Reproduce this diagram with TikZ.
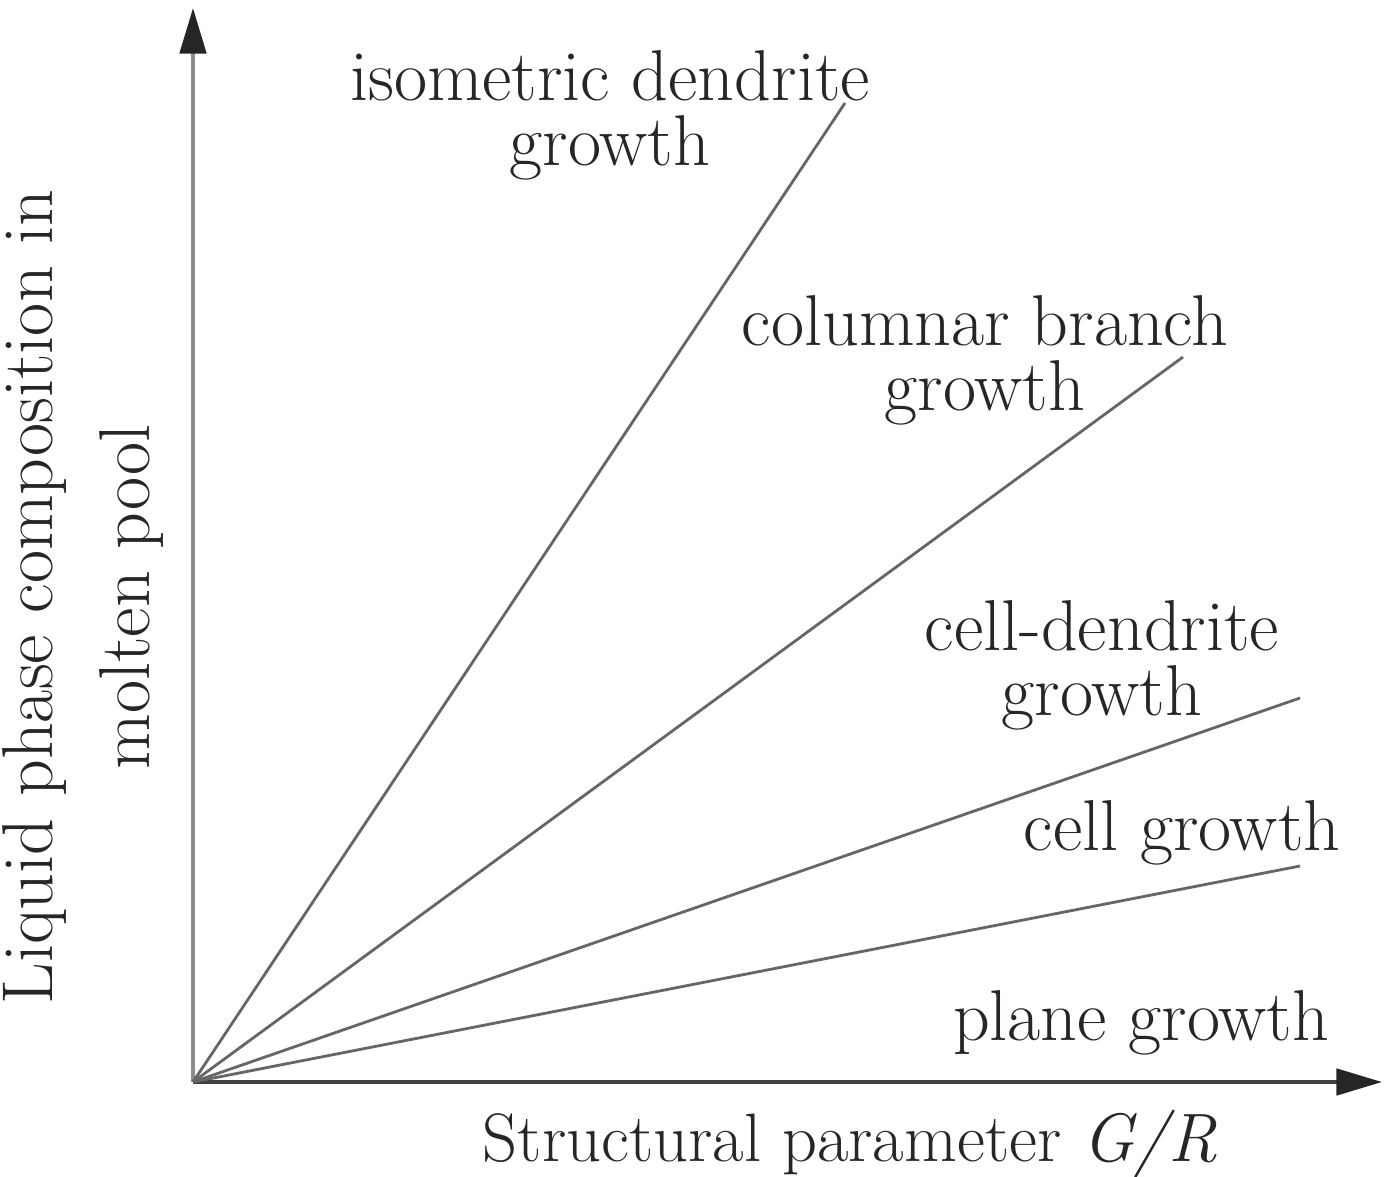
\documentclass[tikz,border=0pt]{standalone}
\usepackage{fontspec}
\usetikzlibrary{arrows.meta}
\usetikzlibrary{calc}

\begin{document}
\begin{tikzpicture}[x=0.02cm,y=-0.02cm]
    \useasboundingbox (0,0) rectangle (1392,1176);
    \begin{scope}[font=\fontsize{41}{37}\selectfont,
        axistip/.style={-{Triangle[length=26pt,width=15pt,color=black!85]}},
        growthline/.style={draw=black!60,line width=1.6pt},
        lbl/.style={inner sep=0pt,align=center,text=black!85}]
    % Axes:
    % The origin and the free ends of the axes are named coordinates:
    \coordinate (O) at (193,1082);
    \coordinate (ytop) at (193,8);
    \coordinate (xend) at (1382,1082);
    \draw [axistip,draw=black!45,line width=2.2pt] (O) -- (ytop);
    \draw [axistip,draw=black!75,line width=2.2pt] (O) -- (xend);

    % Ends of the growth lines
    \coordinate (iso) at (845,103);
    \coordinate (col) at (1183,357);
    \coordinate (cd) at (1300,698);
    \coordinate (cell) at (1300,866);

    \foreach \e in {iso,col,cd,cell}
        \draw [growthline] (O) -- (\e);

    % Regions
    \node [lbl] (isolbl) at (610,115) {isometric dendrite\\growth};
    \node [lbl] (collbl) at (985,360) {columnar branch\\growth};
    \node [lbl] (cdlbl) at (1102,665) {cell-dendrite\\growth};
    \node [lbl] (celllbl) at (1182,833) {cell growth};
    \node [lbl] (planelbl) at (1141,1023) {plane growth};

    % Axis labels
    \node [lbl,font=\fontsize{39}{37}\selectfont] (xlbl) at (850,1144) {Structural parameter \textit{G/R}};
    \node [lbl,rotate=90,font=\fontsize{41}{55}\selectfont] (ylbl) at (83,597) {Liquid phase composition in\\molten pool};
    \end{scope}
\end{tikzpicture}
\end{document}
